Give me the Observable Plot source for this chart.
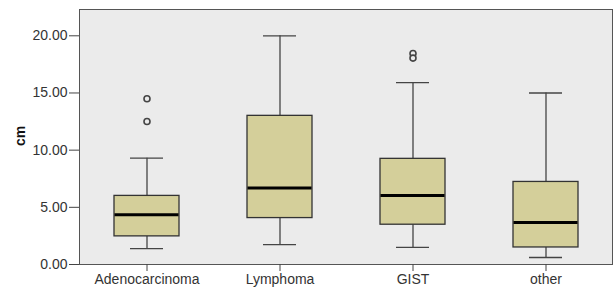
<!DOCTYPE html>
<html><head><meta charset="utf-8">
<script src="https://cdn.jsdelivr.net/npm/d3@7"></script>
<script src="https://cdn.jsdelivr.net/npm/@observablehq/plot@0.6"></script>
<style>
body{margin:0;background:#fff;}
#chart svg{display:block;font-family:"Liberation Sans",Arial,sans-serif;}
</style></head>
<body><div id="chart"></div>
<script>
const categories = ["Adenocarcinoma","Lymphoma","GIST","other"];
const whiskerLow  = [1.38, 1.73, 1.49, 0.61];
const q1          = [2.46, 4.06, 3.48, 1.49];
const median      = [4.36, 6.70, 6.03, 3.68];
const q3          = [6.00, 13.0, 9.24, 7.22];
const whiskerHigh = [9.30, 20.0, 15.9, 15.0];
const outlierCat  = ["Adenocarcinoma","Adenocarcinoma","GIST","GIST"];
const outlierVal  = [14.5, 12.5, 18.45, 18.05];
const yTicks = [0,5,10,15,20];

const boxes = categories.map((c,i)=>({cat:c, lo:whiskerLow[i], q1:q1[i], med:median[i], q3:q3[i], hi:whiskerHigh[i]}));
const outliers = outlierCat.map((c,i)=>({cat:c, v:outlierVal[i]}));

const chart = Plot.plot({
  width: 616, height: 289,
  marginLeft: 79, marginRight: 4, marginTop: 9, marginBottom: 25,
  style: {fontSize: "14px", color: "#333", fontFamily: "Liberation Sans, Arial, sans-serif"},
  x: {type: "band", domain: categories, padding: 0, label: null},
  y: {domain: [0, 22.3], label: null},
  marks: [
    Plot.frame({fill: "#ebebeb", stroke: null}),
    Plot.ruleX(boxes, {x: "cat", y1: "lo", y2: "q1", stroke: "#444", strokeWidth: 1.3}),
    Plot.ruleX(boxes, {x: "cat", y1: "q3", y2: "hi", stroke: "#444", strokeWidth: 1.3}),
    Plot.tickY(boxes, {x: "cat", y: "lo", stroke: "#444", strokeWidth: 1.3, inset: 50}),
    Plot.tickY(boxes, {x: "cat", y: "hi", stroke: "#444", strokeWidth: 1.3, inset: 50}),
    Plot.barY(boxes, {x: "cat", y1: "q1", y2: "q3", fill: "#d4cf9a", stroke: "#333", strokeWidth: 1.3, insetLeft: 34, insetRight: 34}),
    Plot.tickY(boxes, {x: "cat", y: "med", stroke: "#000", strokeWidth: 3, insetLeft: 34.5, insetRight: 34.5}),
    Plot.dot(outliers, {x: "cat", y: "v", r: 3, stroke: "#444", strokeWidth: 1.6, fill: "#ebebeb"}),
    Plot.frame({stroke: "#555", strokeWidth: 1}),
    Plot.axisY({ticks: yTicks, tickFormat: d => d.toFixed(2), tickSize: 10, tickPadding: 2, stroke: "#444", fill: "#333", label: null}),
    Plot.axisX({tickSize: 7, tickPadding: 3, stroke: "#444", fill: "#333", label: null}),
    Plot.text(["cm"], {frameAnchor: "left", dx: -59, dy: 9, rotate: -90, fontWeight: "bold", fontSize: 14, fill: "#111"})
  ]
});
document.getElementById("chart").appendChild(chart);
</script></body></html>
